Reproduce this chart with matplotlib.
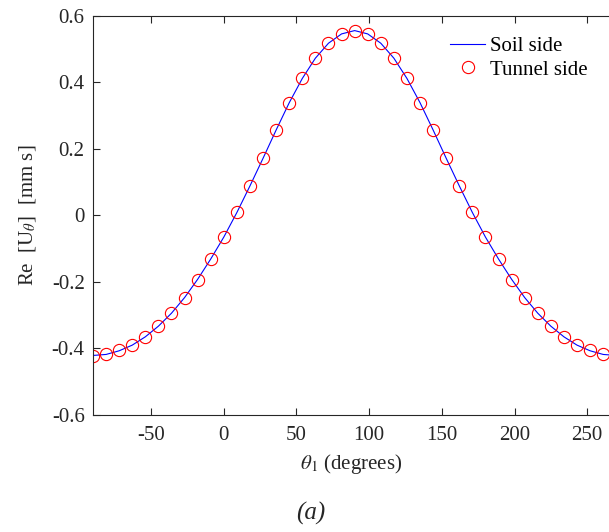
import matplotlib
matplotlib.use("Agg")
import matplotlib.pyplot as plt
import numpy as np

plt.rcParams['font.family'] = ['Liberation Serif', 'DejaVu Serif']
plt.rcParams['mathtext.fontset'] = 'stix'

# theta_1 in degrees, 9 degree steps
theta_tunnel = np.arange(-90, 261 + 1, 9)
theta_soil = np.arange(-90, 270 + 1, 9)

# Re[U_theta] (mm s)
re_u_tunnel = [-0.422, -0.417, -0.406, -0.391, -0.365, -0.333, -0.294, -0.247, -0.193, -0.132,
               -0.066, 0.009, 0.089, 0.172, 0.257, 0.339, 0.412, 0.474, 0.518, 0.546,
               0.555, 0.546, 0.518, 0.474, 0.412, 0.339, 0.257, 0.172, 0.089, 0.009,
               -0.066, -0.132, -0.193, -0.247, -0.294, -0.333, -0.365, -0.391, -0.406, -0.417]
re_u_soil = [-0.421, -0.418, -0.407, -0.390, -0.365, -0.333, -0.294, -0.247, -0.192, -0.131,
             -0.065, 0.009, 0.089, 0.172, 0.257, 0.339, 0.412, 0.473, 0.518, 0.546,
             0.556, 0.546, 0.518, 0.473, 0.412, 0.339, 0.257, 0.172, 0.089, 0.009,
             -0.065, -0.131, -0.192, -0.247, -0.294, -0.333, -0.365, -0.390, -0.407, -0.418,
             -0.421]

xticks = [-50, 0, 50, 100, 150, 200, 250]
yticks = [-0.6, -0.4, -0.2, 0, 0.2, 0.4, 0.6]
ytick_labels = ['-0.6', '-0.4', '-0.2', '0', '0.2', '0.4', '0.6']
xtick_labels = ['-50', '0', '50', '100', '150', '200', '250']

fig = plt.figure(figsize=(6.09, 5.32), dpi=100)
ax = fig.add_axes([0.1527, 0.220, 0.8473, 0.750])

ax.plot(theta_soil, re_u_soil, color='#0000ff', linewidth=0.8, label='Soil side')
ax.plot(theta_tunnel, re_u_tunnel, linestyle='none', marker='o', markersize=8.8,
        markerfacecolor='none', markeredgecolor='#ff0000', markeredgewidth=0.8,
        label='Tunnel side')

ax.set_xlim(-90, 265)
ax.set_ylim(-0.6, 0.6)
ax.set_xticks(xticks)
ax.set_xticklabels(xtick_labels)
ax.set_yticks(yticks)
ax.set_yticklabels(ytick_labels)

ax.tick_params(direction='in', length=5, width=0.8, colors='#262626',
               labelsize=15, top=True, right=False)
ax.tick_params(axis='x', pad=8)
ax.tick_params(axis='y', pad=6)
for side in ['left', 'bottom', 'top']:
    ax.spines[side].set_color('#262626')
    ax.spines[side].set_linewidth(0.8)
ax.spines['right'].set_visible(False)

ax.set_xlabel(r'$\theta_1$ (degrees)', fontsize=15, color='#262626', labelpad=5)
ax.set_ylabel(r'Re  [U$_\theta$]  [mm s]', fontsize=15, color='#262626', labelpad=10)

leg = ax.legend(loc='upper left', bbox_to_anchor=(0.692, 0.948), frameon=False, fontsize=15,
                handlelength=1.7, handletextpad=0.2, borderaxespad=0, borderpad=0,
                labelspacing=0.18)

fig.text(0.51, 0.035, '(a)', fontsize=18, style='italic', ha='center', va='center',
         color='#262626')

fig.savefig('out.png', dpi=100)
